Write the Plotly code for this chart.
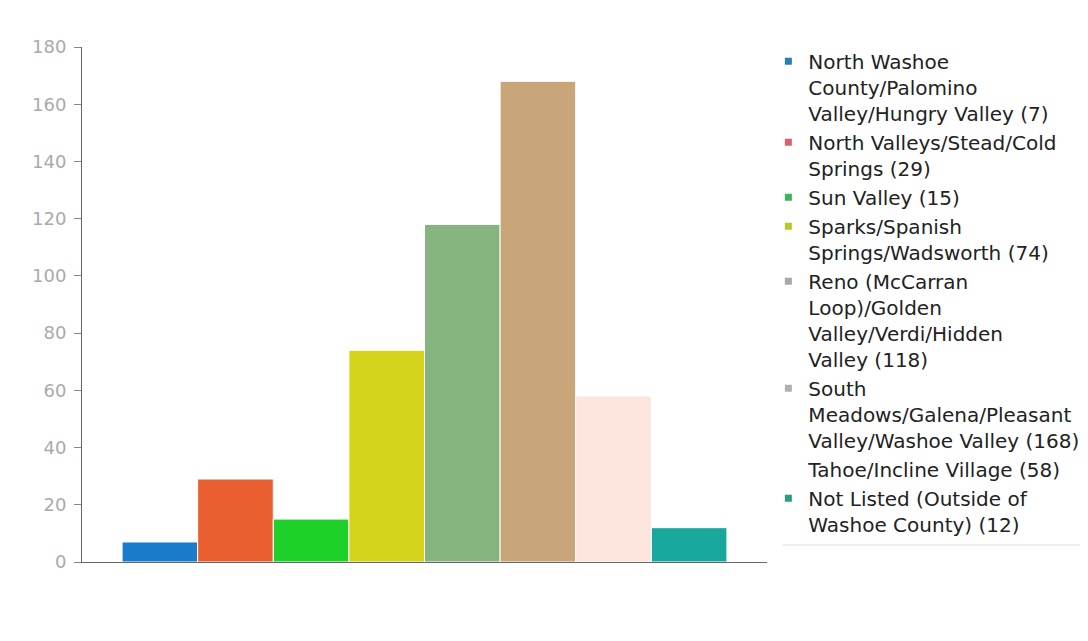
import plotly.graph_objects as go

# Washoe County area responses
areas = [
    "North Washoe<br>County/Palomino<br>Valley/Hungry Valley",
    "North Valleys/Stead/Cold<br>Springs",
    "Sun Valley",
    "Sparks/Spanish<br>Springs/Wadsworth",
    "Reno (McCarran<br>Loop)/Golden<br>Valley/Verdi/Hidden<br>Valley",
    "South<br>Meadows/Galena/Pleasant<br>Valley/Washoe Valley",
    "Tahoe/Incline Village",
    "Not Listed (Outside of<br>Washoe County)",
]
counts = [7, 29, 15, 74, 118, 168, 58, 12]
bar_colors = ["#1a7acb", "#e85e2e", "#1ed02a", "#d5d41c", "#85b47e", "#c9a67a", "#fde4dc", "#18a89e"]
legend_colors = ["#2a7fb0", "#d9606a", "#3cb55a", "#b8c823", "#a8a8a8", "#b0b0b0", "rgba(0,0,0,0)", "#2a9f80"]
yticks = [0, 20, 40, 60, 80, 100, 120, 140, 160, 180]

fig = go.Figure()

for name, n, c in zip(areas, counts, bar_colors):
    fig.add_trace(
        go.Bar(
            x=["All"],
            y=[n],
            name=f"{name} ({n})",
            marker=dict(color=c, line=dict(color="white", width=1)),
            showlegend=False,
        )
    )

# small square legend keys
for name, n, c in zip(areas, counts, legend_colors):
    fig.add_trace(
        go.Scatter(
            x=[None],
            y=[None],
            mode="markers",
            name=f"{name} ({n})",
            marker=dict(symbol="square", size=7, color=c),
        )
    )

# page body adds an 8px margin, so keep the figure inside the window
fig.update_layout(
    width=1080,
    height=633,
    barmode="group",
    bargap=0.117,
    bargroupgap=0,
    template="none",
    font=dict(family="DejaVu Sans", size=20, color="#222222"),
    plot_bgcolor="white",
    paper_bgcolor="white",
    margin=dict(l=74, r=321, t=39, b=79, autoexpand=False),
    showlegend=True,
    legend=dict(
        x=0.002 + 1,
        xanchor="left",
        y=1.01,
        yanchor="top",
        valign="top",
        maxheight=600,
        font=dict(family="DejaVu Sans", size=20, color="#222222"),
        bgcolor="rgba(0,0,0,0)",
    ),
    xaxis=dict(
        showticklabels=False,
        showgrid=False,
        zeroline=False,
        showline=True,
        linecolor="#666666",
        linewidth=1,
        ticks="",
    ),
    yaxis=dict(
        range=[0, 180],
        tickvals=yticks,
        showgrid=False,
        zeroline=False,
        showline=True,
        linecolor="#666666",
        linewidth=1,
        ticks="outside",
        ticklen=7,
        tickcolor="#888888",
        ticklabelstandoff=4,
        tickfont=dict(family="DejaVu Sans", size=18, color="#aaaaaa"),
    ),
)

# legend bottom rule
fig.add_shape(
    type="line",
    xref="paper",
    yref="paper",
    x0=1.023,
    x1=1.5,
    y0=0.033,
    y1=0.033,
    line=dict(color="#dddddd", width=1),
)

fig.write_html("out.html")
